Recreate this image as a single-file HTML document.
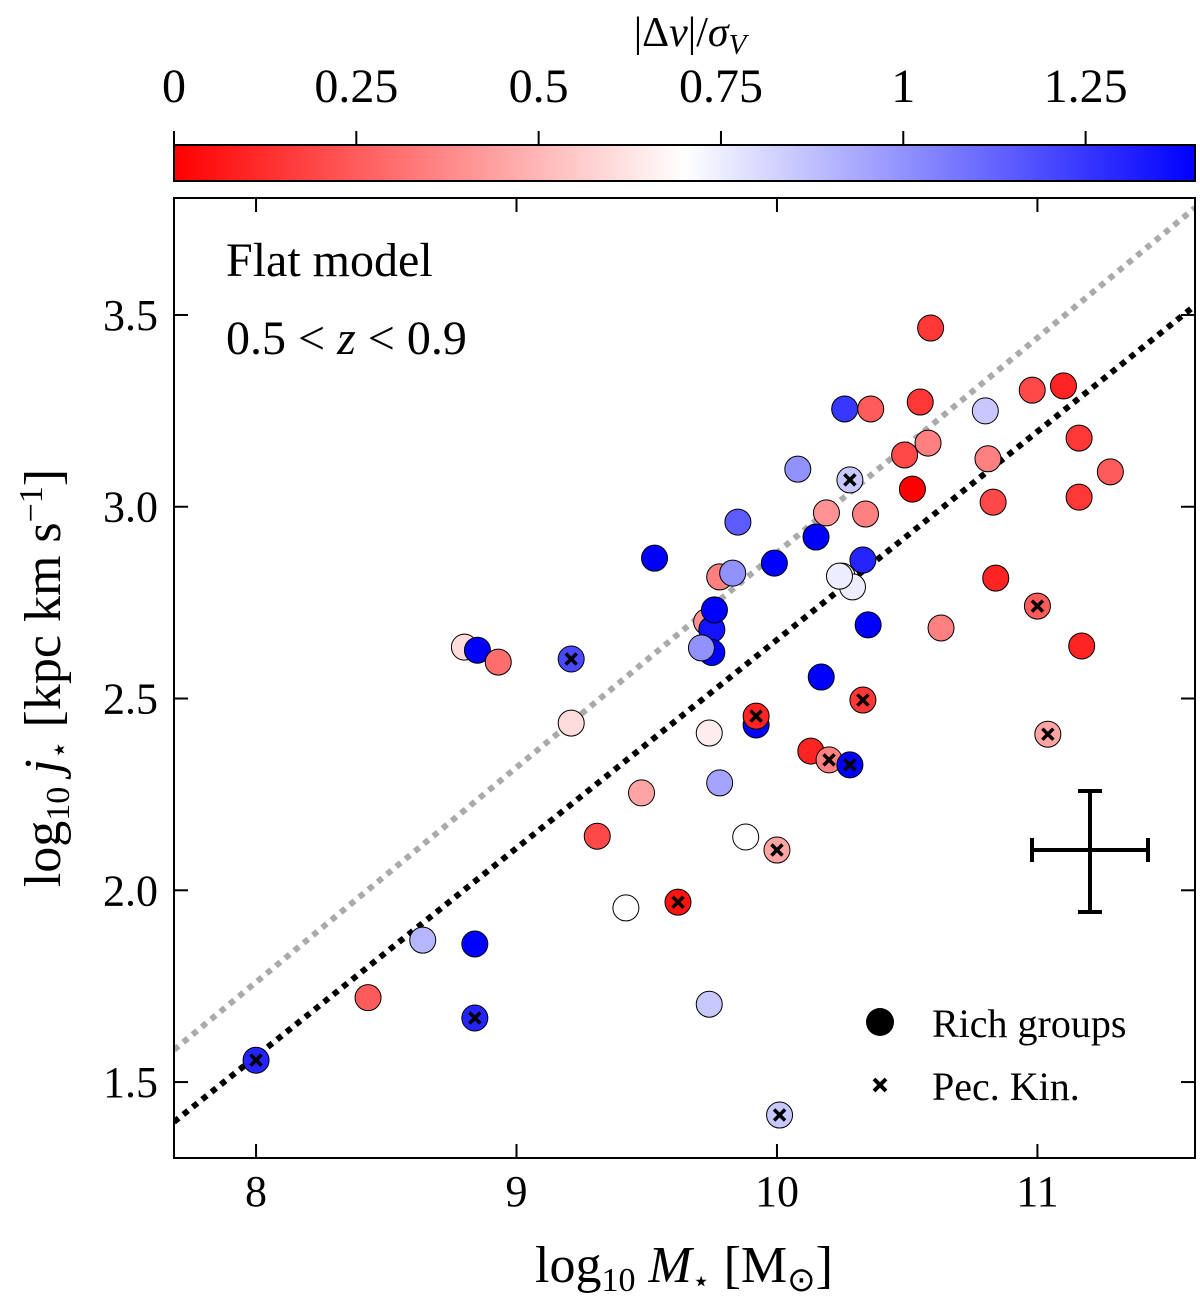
<!DOCTYPE html>
<html><head><meta charset="utf-8"><style>
body{margin:0;background:#fff;}
svg text{font-family:"Liberation Serif",serif;fill:#000;}
</style></head><body>
<svg id="chart" width="1200" height="1299" xmlns="http://www.w3.org/2000/svg">
<defs><linearGradient id="cbg" x1="0" x2="1" y1="0" y2="0">
<stop offset="0" stop-color="#ff0000"/><stop offset="0.5" stop-color="#ffffff"/><stop offset="1" stop-color="#0000ff"/>
</linearGradient></defs>
<g id="cbar"></g>
<g id="plot"></g>
</svg>
<script>
const massX=[8.00,8.43,8.64,8.84,8.84,8.80,8.85,8.93,9.21,9.21,
9.31,9.42,9.48,9.62,9.53,9.74,9.74,9.73,9.75,9.75,
9.71,9.76,9.78,9.83,9.85,9.78,9.88,9.92,9.92,10.00,
10.01,9.99,10.08,10.15,10.17,10.19,10.13,10.20,10.25,10.29,
10.24,10.28,10.26,10.28,10.33,10.34,10.33,10.35,10.36,10.49,
10.52,10.55,10.58,10.59,10.63,10.80,10.81,10.83,10.84,10.98,
11.00,11.04,11.10,11.16,11.16,11.17,11.28];
const jY=[1.557,1.72,1.87,1.86,1.667,2.634,2.626,2.595,2.603,2.436,
2.141,1.954,2.254,1.969,2.866,1.703,2.41,2.70,2.68,2.62,
2.632,2.731,2.817,2.827,2.96,2.28,2.139,2.431,2.454,2.105,
1.414,2.853,3.098,2.921,2.556,2.984,2.363,2.34,2.819,2.791,
2.819,3.07,3.255,2.327,2.861,2.981,2.496,2.692,3.255,3.135,
3.046,3.273,3.166,3.466,2.684,3.25,3.125,3.012,2.814,3.304,
2.741,2.407,3.315,3.179,3.025,2.637,3.091];
const dvSig=[1.3,0.25,0.9,1.4,1.3,0.6,1.4,0.3,1.2,0.6,
0.2,0.7,0.45,0.05,1.4,0.85,0.65,0.4,1.35,1.4,
1.0,1.4,0.35,1.0,1.15,0.95,0.7,1.4,0.1,0.45,
0.85,1.4,1.0,1.4,1.4,0.4,0.1,0.35,0.7,0.75,
0.75,0.85,1.25,1.4,1.3,0.35,0.15,1.4,0.25,0.2,
0.0,0.15,0.35,0.15,0.35,0.85,0.35,0.2,0.1,0.2,
0.25,0.45,0.1,0.15,0.15,0.1,0.25];
const pecKin=[1,0,0,0,1,0,0,0,1,0,
0,0,0,1,0,0,0,0,0,0,
0,0,0,0,0,0,0,0,1,1,
1,0,0,0,0,0,0,1,0,0,
0,1,0,1,0,0,1,0,0,0,
0,0,0,0,0,0,0,0,0,0,
1,1,0,0,0,0,0];
const xTicks=[8,9,10,11];
const yTicks=[1.5,2.0,2.5,3.0,3.5];
const yTickLabels=["1.5","2.0","2.5","3.0","3.5"];
const cTicks=[0,0.25,0.5,0.75,1,1.25];
const cTickLabels=["0","0.25","0.5","0.75","1","1.25"];
const fitBlack=[1.396,0.543];
const fitGray=[1.584,0.56];

const L=174,R=1195,T=198,B=1158;
const X0=7.685,X1=11.605,Y0=1.302,Y1=3.805;
const sx=v=>L+(v-X0)/(X1-X0)*(R-L);
const sy=v=>B-(v-Y0)/(Y1-Y0)*(B-T);
const CMAX=1.4, cL=174,cR=1195;
const sc=v=>cL+v/CMAX*(cR-cL);
function cmap(c){let t=Math.max(0,Math.min(1,c/CMAX));let r,g,b;
 if(t<0.5){r=1;g=b=2*t;}else{r=g=2-2*t;b=1;}
 return `rgb(${Math.round(r*255)},${Math.round(g*255)},${Math.round(b*255)})`;}
const NS="http://www.w3.org/2000/svg";
function mk(tag,attrs,parent){const e=document.createElementNS(NS,tag);for(const k in attrs)e.setAttribute(k,attrs[k]);parent.appendChild(e);return e;}
const cb=document.getElementById('cbar'),pl=document.getElementById('plot');
let cpth=mk('clipPath',{id:'clp'},document.querySelector('defs'));mk('rect',{x:L,y:T,width:R-L,height:B-T},cpth);

let r=mk('rect',{x:cL,y:145,width:cR-cL,height:36,fill:'url(#cbg)',stroke:'#000','stroke-width':2},cb);


cTicks.forEach((v,i)=>{
 let t=mk('line',{x1:sc(v),x2:sc(v),y1:145,y2:131,stroke:'#000','stroke-width':2},cb);
 
 
 let tx=mk('text',{x:sc(v),y:102,'text-anchor':'middle','font-size':48},cb);tx.textContent=cTickLabels[i];
 
 
});
let ct=mk('text',{x:690,y:46,'text-anchor':'middle','font-size':42},cb);
ct.innerHTML='|Δ<tspan font-style="italic">v</tspan>|/<tspan font-style="italic">σ</tspan><tspan font-style="italic" font-size="29" dy="8">V</tspan>';



[[fitGray,'#aaaaaa','gray-fit-line'],[fitBlack,'#000','black-fit-line']].forEach(([f,col,nm])=>{
 let ln=mk('line',{x1:sx(X0),y1:sy(f[0]),x2:sx(X1),y2:sy(f[0]+f[1]*(X1-X0)),stroke:col,'stroke-width':6,'stroke-dasharray':'6 6','clip-path':'url(#clp)'},pl);
 
 
});

massX.forEach((m,i)=>{
 let c=mk('circle',{cx:sx(m),cy:sy(jY[i]),r:13,fill:cmap(dvSig[i]),stroke:'#000','stroke-width':1},pl);
 
 
 if(pecKin[i]){const x=sx(m),y=sy(jY[i]),d=5.5;
  let p=mk('path',{d:`M${x-d},${y-d}L${x+d},${y+d}M${x-d},${y+d}L${x+d},${y-d}`,stroke:'#000','stroke-width':3.5},pl);
  
  }
});

let fr=mk('rect',{x:L,y:T,width:R-L,height:B-T,fill:'none',stroke:'#000','stroke-width':2},pl);


xTicks.forEach(v=>{
 [[B,B-14],[T,T+14]].forEach(([a,b])=>{let t=mk('line',{x1:sx(v),x2:sx(v),y1:a,y2:b,stroke:'#000','stroke-width':2},pl);
 
 });
 let tx=mk('text',{x:sx(v),y:1206,'text-anchor':'middle','font-size':44},pl);tx.textContent=v;
 
 
});
yTicks.forEach((v,i)=>{
 [[L,L+14],[R,R-14]].forEach(([a,b])=>{let t=mk('line',{x1:a,x2:b,y1:sy(v),y2:sy(v),stroke:'#000','stroke-width':2},pl);
 
 });
 let tx=mk('text',{x:158,y:sy(v)+15,'text-anchor':'end','font-size':44},pl);tx.textContent=yTickLabels[i];
 
 
});
let xt=mk('text',{x:684,y:1282,'text-anchor':'middle','font-size':52},pl);
xt.innerHTML='log<tspan font-size="34" dy="9">10</tspan><tspan dy="-9" font-style="italic"> M</tspan><tspan font-size="30" dy="9">⋆</tspan><tspan dy="-9"> [M</tspan><tspan font-size="34" dy="9">⊙</tspan><tspan dy="-9">]</tspan>';


let yt=mk('text',{x:0,y:0,'text-anchor':'middle','font-size':52,transform:'translate(60,678) rotate(-90)'},pl);
yt.innerHTML='log<tspan font-size="34" dy="9">10</tspan><tspan dy="-9" font-style="italic"> j</tspan><tspan font-size="30" dy="9">⋆</tspan><tspan dy="-9"> [kpc km s</tspan><tspan font-size="34" dy="-18">−1</tspan><tspan dy="18">]</tspan>';



let a1=mk('text',{x:226,y:276,'font-size':48},pl);a1.textContent='Flat model';


let a2=mk('text',{x:226,y:354,'font-size':48},pl);a2.innerHTML='0.5 &lt; <tspan font-style="italic">z</tspan> &lt; 0.9';



let eb=mk('path',{d:'M1032,850H1148M1032,838V862M1148,838V862M1090,791V912M1078,791H1102M1078,912H1102',stroke:'#000','stroke-width':4,fill:'none'},pl);



let lc=mk('circle',{cx:880,cy:1022,r:14,fill:'#000'},pl);


let lt1=mk('text',{x:932,y:1037,'font-size':40},pl);lt1.textContent='Rich groups';


let lx=mk('path',{d:'M874,1079L886,1091M874,1091L886,1079',stroke:'#000','stroke-width':4},pl);


let lt2=mk('text',{x:932,y:1100,'font-size':40},pl);lt2.textContent='Pec. Kin.';


</script>
</body></html>
